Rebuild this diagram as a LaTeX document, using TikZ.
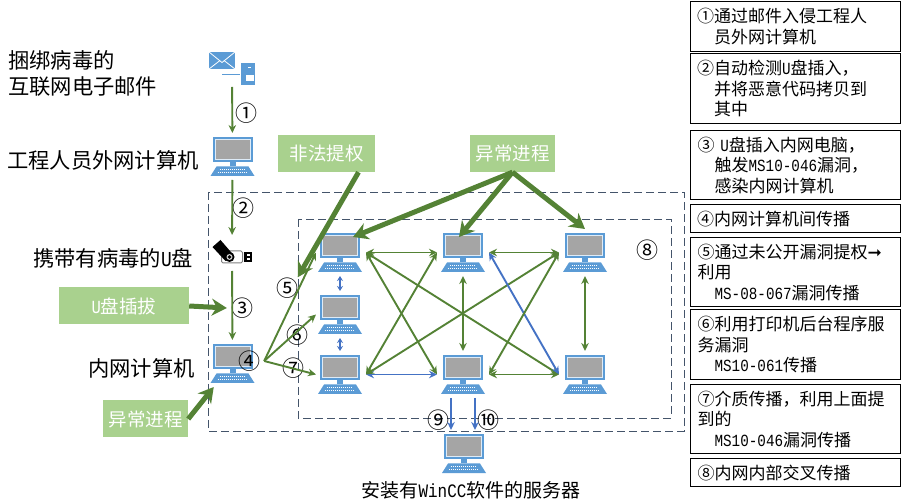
\documentclass[tikz,border=0pt]{standalone}
\usepackage{fontspec}
\usepackage{xcolor}
\usetikzlibrary{arrows.meta,positioning}
\setmainfont{Noto Sans CJK SC}
\newfontfamily\latfont[FakeStretch=0.84]{Liberation Mono}
\newfontfamily\symfont{DejaVu Sans}
\newcommand{\lat}[1]{{\latfont #1}}
\newcommand{\hang}{\hspace*{17pt}}
\definecolor{arrowgreen}{HTML}{548235}
\definecolor{labelgreen}{HTML}{A9D18E}
\definecolor{arrowblue}{HTML}{4472C4}
\definecolor{iconblue}{HTML}{5B9BD5}
\definecolor{screengray}{HTML}{A5A5A5}
\definecolor{dashnavy}{HTML}{44546A}
\newcommand{\pcicon}{%
  \begin{scope}[shift={(path picture bounding box.center)}]
    \fill[iconblue] (-20,-19.5) rectangle (20,6);
    \fill[white!80!iconblue] (-18,-17.5) rectangle (18,4);
    \fill[screengray] (-17,-16.5) rectangle (17,3);
    \fill[iconblue] (-3,6) rectangle (3,9.5);
    \fill[iconblue] (-16,10) -- (16,10) -- (22,19.5) -- (-22,19.5) -- cycle;
    \draw[white,line width=1.5pt,dash pattern=on 1pt off 1pt] (-13,13) -- (13,13);
    \draw[white,line width=1.5pt,dash pattern=on 1pt off 1pt] (-15,16) -- (15,16);
  \end{scope}}
\newcommand{\mailicon}{%
  \begin{scope}[shift={(path picture bounding box.center)}]
    \fill[iconblue] (-23,-16.5) rectangle (3,0.5);
    \draw[white,line width=0.8pt] (-23,-16.5) -- (-10,-6) -- (3,-16.5);
    \draw[white,line width=0.8pt] (-23,0.5) -- (-12,-8);
    \draw[white,line width=0.8pt] (3,0.5) -- (-8,-8);
    \draw[iconblue] (-10,5.5) -- (8,5.5);
    \fill[iconblue] (9,-5.5) rectangle (23,16.5);
    \fill[white] (14,6.5) rectangle (22,13);
    \fill[white] (16,-1.5) rectangle (19,0);
  \end{scope}}
\newcommand{\usbicon}{%
  \begin{scope}[shift={(path picture bounding box.center)}]
    \fill[white,draw=gray,line width=1pt,rounded corners=1.5pt] (-10.5,-2) rectangle (10.5,10);
    \fill[black] (-19.5,-6) -- (-11.5,-13) -- (1.5,2) -- (-6.5,8) -- cycle;
    \fill[black] (-2.5,4) circle (5);
    \fill[gray!40] (-2.5,4) circle (3);
    \fill[black] (-2.5,4) circle (1.8);
    \fill[black] (11.5,-0.5) rectangle (19.5,9);
    \fill[white] (15,1.5) rectangle (18,3.2);
    \fill[white] (15,5.3) rectangle (18,7);
  \end{scope}}
\tikzset{
  pcbox/.style={minimum width=44pt,minimum height=39pt,inner sep=0pt,outer sep=4pt,
    path picture={\pcicon}},
  mailbox/.style={minimum width=46pt,minimum height=33pt,inner sep=0pt,outer sep=2pt,
    path picture={\mailicon}},
  usbbox/.style={minimum width=40pt,minimum height=28pt,inner sep=0pt,outer sep=4pt,
    path picture={\usbicon}},
  caption/.style={inner sep=0pt,anchor=west,font=\fontsize{21.3}{26}\selectfont,align=left},
  greenbox/.style={fill=labelgreen,text=white,inner sep=0pt,minimum height=37pt,
    font=\fontsize{18.5}{22}\selectfont},
  infobox/.style={draw=black,line width=1.2pt,anchor=north west,inner sep=0pt,
    text width=210pt,align=left,font=\fontsize{17}{20.5}\selectfont},
  numlabel/.style={circle,inner sep=0pt,minimum size=22pt,font=\fontsize{22}{22}\selectfont},
  zone/.style={draw=dashnavy,line width=0.9pt,dash pattern=on 8pt off 4pt},
  flow/.style={draw=arrowgreen,line width=1.9pt,-{Stealth[length=8pt,width=7.5pt]}},
  link/.style={draw=arrowgreen,line width=1.9pt,{Stealth[length=8pt,width=7.5pt]}-{Stealth[length=8pt,width=7.5pt]}},
  bluelink/.style={draw=arrowblue,line width=1.9pt,{Stealth[length=8pt,width=7.5pt]}-{Stealth[length=8pt,width=7.5pt]}},
  shortlink/.style={draw=arrowblue,line width=1.6pt,{Stealth[length=5pt,width=6pt]}-{Stealth[length=5pt,width=6pt]}},
  blueflow/.style={draw=arrowblue,line width=1.9pt,-{Stealth[length=8pt,width=7.5pt]}},
  attack/.style={draw=arrowgreen,line width=5pt,-{Stealth[length=15pt,width=17pt]}}
}
\begin{document}
\begin{tikzpicture}[x=1pt,y=-1pt]
    \useasboundingbox (0,0) rectangle (924,502);
    % dashed network zones
    \draw[zone] (208,192) rectangle (684,431);
    \draw[zone] (298,219) rectangle (671,418);
    % left column
    \node[mailbox] (mail) at (232,68.5) {};
    \node[pcbox] (outerpc) at (232.5,156.5) {};
    \node[usbbox] (usb) at (232,253) {};
    \node[pcbox] (innerpc) at (232.5,363.5) {};
    \node[caption] (mailtext) at (8,73) {捆绑病毒的\\互联网电子邮件};
    \node[caption] (outertext) at (7,160) {工程人员外网计算机};
    \node[caption] (usbtext) at (33,258) {携带有病毒的\lat{U}盘};
    \node[caption] (innertext) at (88,368) {内网计算机};
    % intranet computers
    \node[pcbox] (pcA) at (340,252.5) {};
    \node[pcbox] (pcB) [below=15pt of pcA] {};
    \node[pcbox] (pcC) [below=13pt of pcB] {};
    \node[pcbox] (pcD) [right=71pt of pcA] {};
    \node[pcbox] (pcE) [below=75pt of pcD] {};
    \node[pcbox] (pcF) [right=70pt of pcD] {};
    \node[pcbox] (pcG) [below=75pt of pcF] {};
    \node[pcbox] (server) at (464,453.5) {};
    \node[inner sep=0pt,font=\fontsize{19}{22}\selectfont] (servertext) at (471,490) {安装有\lat{WinCC}软件的服务器};
    % green labels
    \node[greenbox,minimum width=97pt] (illegal) at (326.5,153.5) {非法提权};
    \node[greenbox,minimum width=85pt] (abnormal) at (512.5,153.5) {异常进程};
    \node[greenbox,minimum width=130pt] (plug) at (124,306) {\lat{U}盘插拔};
    \node[greenbox,minimum width=85pt] (lowabnormal) at (145.5,419) {异常进程};
    % numbers
    \node[numlabel] (n1) at (246,113) {①};
    \node[numlabel] (n2) at (243,208) {②};
    \node[numlabel] (n3) at (242,308) {③};
    \node[numlabel] (n4) at (249,361) {④};
    \node[numlabel] (n5) at (287,288) {⑤};
    \node[numlabel] (n6) at (297,335) {⑥};
    \node[numlabel] (n7) at (293,368) {⑦};
    \node[numlabel] (n8) at (647,250) {⑧};
    \node[numlabel] (n9) at (438,420) {⑨};
    \node[numlabel] (n10) at (488,420) {⑩};
    % path of the virus
    \draw[flow] (mail) -- (outerpc);
    \draw[flow] (outerpc) -- (usb);
    \draw[flow] (usb) -- (innerpc);
    \draw[flow] (n4.east) -- ([xshift=2pt]pcA.west);
    \draw[flow] (n4.east) -- ([xshift=2pt]pcB.west);
    \draw[flow] (n4.east) -- ([xshift=2pt]pcC.west);
    % links inside the intranet
    \draw[shortlink] (pcA) -- (pcB);
    \draw[shortlink] (pcB) -- (pcC);
    \draw[link] (pcA.east) -- (pcD.west);
    \draw[link] (pcA.east) -- (pcE.west);
    \draw[link] (pcA.east) -- (pcG.west);
    \draw[link] (pcC.east) -- (pcD.west);
    \draw[bluelink] (pcC.east) -- (pcE.west);
    \draw[link] (pcC.east) -- (pcF.west);
    \draw[link] (pcD.east) -- (pcF.west);
    \draw[bluelink] (pcD.east) -- (pcG.west);
    \draw[link] (pcE.east) -- (pcF.west);
    \draw[link] (pcE.east) -- (pcG.west);
    \draw[link] (pcD) -- (pcE);
    \draw[link] (pcF) -- (pcG);
    \draw[blueflow] ([xshift=-12pt]pcE.south) -- ([xshift=-13pt]server.north);
    \draw[blueflow] ([xshift=12pt]pcE.south) -- ([xshift=11pt]server.north);
    % thick arrows
    \draw[attack] ([xshift=32pt]illegal.south) -- (n5.north east);
    \draw[attack] (abnormal.south) -- ([xshift=13pt,yshift=-8pt]pcA.north);
    \draw[attack] (abnormal.south) -- ([xshift=-4pt,yshift=-8pt]pcD.north);
    \draw[attack] (abnormal.south) -- (pcF.north);
    \draw[attack] (plug.east) -- (n3.west);
    \draw[attack] (lowabnormal.east) -- ([yshift=-13pt]innerpc);
    % legend
    \node[infobox,minimum height=50pt] (stepA) at (689.5,1) {\hspace*{7pt}①通过邮件入侵工程人\\\hspace*{7pt}\hang 员外网计算机};
    \node[infobox,minimum height=70pt] (stepB) at (689.5,53) {\hspace*{7pt}②自动检测\lat{U}盘插入，\\\hspace*{7pt}\hang 并将恶意代码拷贝到\\\hspace*{7pt}\hang 其中};
    \node[infobox,minimum height=69pt] (stepC) at (690,130) {\hspace*{7pt}③ \lat{U}盘插入内网电脑，\\\hspace*{7pt}\hang 触发\lat{MS10-046}漏洞，\\\hspace*{7pt}\hang 感染内网计算机};
    \node[infobox,minimum height=28pt] (stepD) at (689.5,204) {\hspace*{7pt}④内网计算机间传播};
    \node[infobox,minimum height=69pt] (stepE) at (690,237) {\hspace*{7pt}⑤通过未公开漏洞提权{\symfont ➞}\\\hspace*{7pt}利用\\\hspace*{7pt}\hang\lat{MS-08-067}漏洞传播};
    \node[infobox,minimum height=70pt] (stepF) at (690,309) {\hspace*{7pt}⑥利用打印机后台程序服\\\hspace*{7pt}务漏洞\\\hspace*{7pt}\hang\lat{MS10-061}传播};
    \node[infobox,minimum height=69pt] (stepG) at (690,384) {\hspace*{7pt}⑦介质传播，利用上面提\\\hspace*{7pt}到的\\\hspace*{7pt}\hang\lat{MS10-046}漏洞传播};
    \node[infobox,minimum height=28pt] (stepH) at (690,458) {\hspace*{7pt}⑧内网内部交叉传播};
\end{tikzpicture}
\end{document}
